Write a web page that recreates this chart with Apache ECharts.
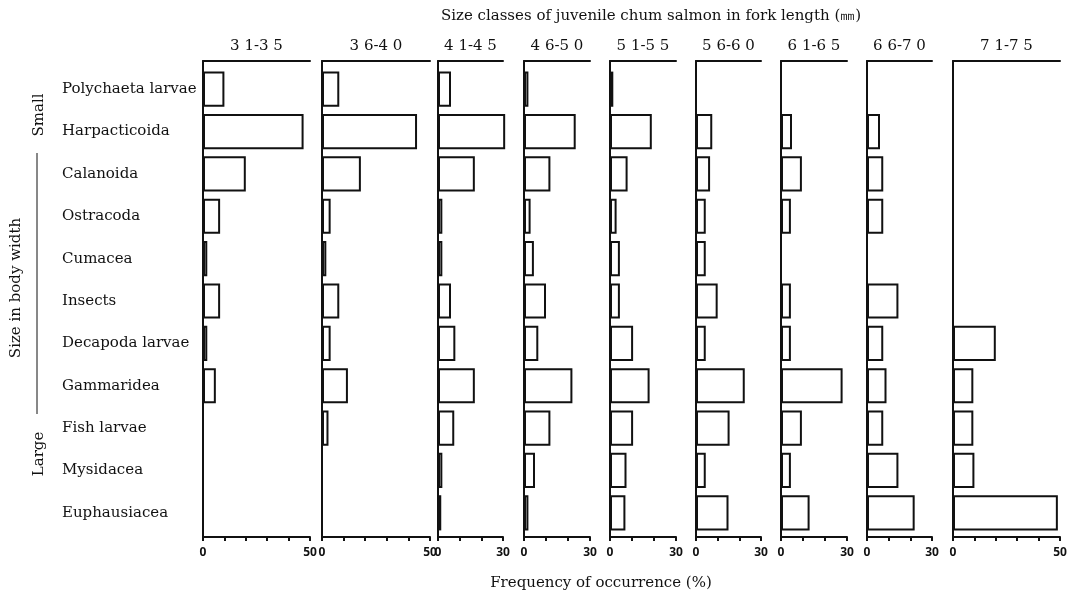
<!DOCTYPE html>
<html>
<head>
<meta charset="utf-8">
<script src="https://cdn.jsdelivr.net/npm/echarts@6/dist/echarts.min.js"></script>
<style>
html,body{margin:0;padding:0;background:#fff;}
#chart{width:1073px;height:596px;}
</style>
</head>
<body>
<div id="chart"></div>
<script>
// ---- data ----
const categories = ['Polychaeta larvae','Harpacticoida','Calanoida','Ostracoda','Cumacea','Insects','Decapoda larvae','Gammaridea','Fish larvae','Mysidacea','Euphausiacea'];
const sizeClasses = ['3 1-3 5','3 6-4 0','4 1-4 5','4 6-5 0','5 1-5 5','5 6-6 0','6 1-6 5','6 6-7 0','7 1-7 5'];
const axisMax = [50,50,30,30,30,30,30,30,50];
const fl31_35 = [10,47,20,8,2,8,2,6,null,null,null];
const fl36_40 = [8,44,18,4,2,8,4,12,3,null,null];
const fl41_45 = [6,31,17,2,2,6,8,17,7.5,2,1.5];
const fl46_50 = [2,23.5,12,3,4.5,10,6.5,22,12,5,2];
const fl51_55 = [1.5,19,8,3,4.5,4.5,10.5,18,10.5,7.5,7];
const fl56_60 = [null,7.5,6.5,4.5,4.5,10,4.5,22.5,15.5,4.5,15];
const fl61_65 = [null,5,9.5,4.5,null,4.5,4.5,28,9.5,4.5,13];
const fl66_70 = [null,6,7.5,7.5,null,14.5,7.5,9,7.5,14.5,22];
const fl71_75 = [null,null,null,null,null,null,20,9.5,9.5,10,49];
const panelValues = [fl31_35,fl36_40,fl41_45,fl46_50,fl51_55,fl56_60,fl61_65,fl66_70,fl71_75];

// ---- layout ----
const panelLeft = [203,322,438,524,610,696,781,867,953];
const panelWidth = [107,108,65,66,66,65,66,65,107];
const serif = '"DejaVu Serif","Liberation Serif",serif';
const ink = '#111';

const grid = [], xAxis = [], yAxis = [], series = [];
panelValues.forEach((vals, i) => {
  // decorative frame grid (top line + full-height left line)
  grid.push({left: panelLeft[i], top: 61, width: panelWidth[i], height: 476});
  const gFrame = grid.length - 1;
  xAxis.push({
    gridIndex: gFrame, type: 'value', position: 'top', min: 0, max: 1,
    axisLine: {show: true, onZero: false, lineStyle: {color: ink, width: 2}},
    axisTick: {show: false}, axisLabel: {show: false}, splitLine: {show: false},
    name: sizeClasses[i], nameLocation: 'middle', nameGap: 7,
    nameTextStyle: {fontFamily: serif, fontSize: 15, color: ink}
  });
  yAxis.push({
    gridIndex: gFrame, type: 'value', position: 'left', min: 0, max: 1,
    axisLine: {show: true, onZero: false, lineStyle: {color: ink, width: 2}},
    axisTick: {show: false}, axisLabel: {show: false}, splitLine: {show: false}
  });
  // data grid
  grid.push({left: panelLeft[i], top: 68, width: panelWidth[i], height: 466});
  const gData = grid.length - 1;
  const mx = axisMax[i];
  xAxis.push({
    gridIndex: gData, type: 'value', position: 'bottom', min: 0, max: mx, interval: 10,
    offset: 3,
    axisLine: {show: true, onZero: false, lineStyle: {color: ink, width: 2}},
    axisTick: {show: true, length: 4, lineStyle: {color: ink, width: 2}},
    axisLabel: {
      show: true, margin: 10, color: ink, fontSize: 12, fontWeight: 'bold',
      fontFamily: '"Noto Sans","DejaVu Sans",sans-serif',
      formatter: v => (v === 0 || v === mx) ? String(v) : ''
    },
    splitLine: {show: false}
  });
  yAxis.push({
    gridIndex: gData, type: 'category', data: categories, inverse: true,
    axisLine: {show: false}, axisTick: {show: false}, splitLine: {show: false},
    axisLabel: i === 0 ? {
      show: true, align: 'left', margin: 141, color: ink, fontSize: 15, fontFamily: serif
    } : {show: false}
  });
  series.push({
    type: 'bar', xAxisIndex: xAxis.length - 1, yAxisIndex: yAxis.length - 1,
    data: vals, barWidth: '83%', silent: true, clip: false,
    itemStyle: {color: '#fff', borderColor: ink, borderWidth: 2}
  });
});

const chart = echarts.init(document.getElementById('chart'), null, {renderer: 'canvas'});
chart.setOption({
  backgroundColor: '#fff',
  animation: false,
  title: [
    {text: 'Size classes of juvenile chum salmon in fork length (㎜)', left: 646, top: 4, textAlign: 'center',
     textStyle: {fontFamily: serif, fontSize: 15, fontWeight: 'normal', color: ink}},
    {text: 'Frequency of occurrence (%)', left: 596, top: 571, textAlign: 'center',
     textStyle: {fontFamily: serif, fontSize: 15, fontWeight: 'normal', color: ink}}
  ],
  graphic: [
    {type: 'text', x: 16, y: 288, rotation: Math.PI / 2, style: {text: 'Size in body width', font: '15px ' + serif, fill: ink, align: 'center', verticalAlign: 'middle'}},
    {type: 'text', x: 39, y: 115, rotation: Math.PI / 2, style: {text: 'Small', font: '15px ' + serif, fill: ink, align: 'center', verticalAlign: 'middle'}},
    {type: 'text', x: 39, y: 454, rotation: Math.PI / 2, style: {text: 'Large', font: '15px ' + serif, fill: ink, align: 'center', verticalAlign: 'middle'}},
    {type: 'line', shape: {x1: 37, y1: 153, x2: 37, y2: 414}, style: {stroke: ink, lineWidth: 1}}
  ],
  grid, xAxis, yAxis, series
});
</script>
</body>
</html>
